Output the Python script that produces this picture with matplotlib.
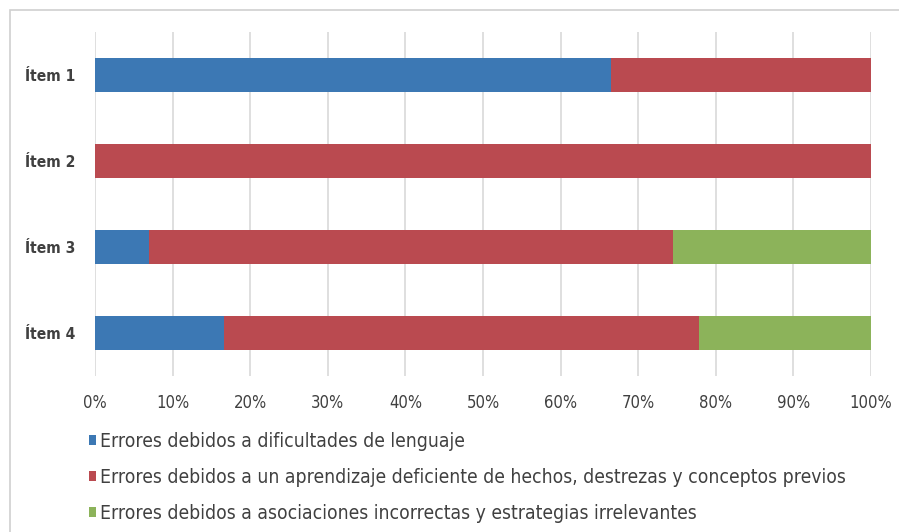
import numpy as np
from matplotlib import pyplot as plt
from matplotlib.patches import Patch, Rectangle

# data
items = ['Ítem 1', 'Ítem 2', 'Ítem 3', 'Ítem 4']
lenguaje = [66.5, 0.0, 7.0, 16.6]
aprendizaje = [33.5, 100.0, 67.5, 61.2]
asociaciones = [0.0, 0.0, 25.5, 22.2]
series_labels = ['Errores debidos a dificultades de lenguaje',
                 'Errores debidos a un aprendizaje deficiente de hechos, destrezas y conceptos previos',
                 'Errores debidos a asociaciones incorrectas y estrategias irrelevantes']
colores = ['#3C78B4', '#BA4A50', '#8CB35A']

plt.rcParams['font.family'] = ['DejaVu Sans']
plt.rcParams['font.stretch'] = 'condensed'

fig = plt.figure(figsize=(8.99, 5.32), dpi=100)
# marco del grafico
fig.patches.append(Rectangle((10/899, -0.01), 1.0, 1 - 10/532 + 0.01, transform=fig.transFigure,
                             fill=False, edgecolor='#d0d0d0', linewidth=1.2))
ax = fig.add_axes([95/899, 1 - 376/532, 776/899, 344/532])

y = np.arange(len(items))
izq = np.zeros(len(items))
for valores, color in zip([lenguaje, aprendizaje, asociaciones], colores):
    ax.barh(y, valores, left=izq, height=0.39, color=color, edgecolor='none', zorder=3)
    izq = izq + np.array(valores)

ax.set_xlim(0, 100)
ax.set_ylim(len(items) - 0.5, -0.5)
ax.set_yticks(y)
ax.set_yticklabels(items, fontsize=11.2, fontweight='bold', color='#404040')
ticks = np.arange(0, 101, 10)
ax.set_xticks(ticks)
ax.set_xticklabels([str(t) + '%' for t in ticks], fontsize=12, color='#404040')
ax.tick_params(axis='both', length=0)
ax.tick_params(axis='x', pad=13)
ax.tick_params(axis='y', pad=14)
ax.grid(axis='x', color='#d9d9d9', linewidth=1.2, zorder=0)
for s in ax.spines.values():
    s.set_visible(False)

handles = [Patch(facecolor=c, edgecolor='none') for c in colores]
fig.legend(handles, series_labels, loc='upper left', bbox_to_anchor=(89/899, 1 - 432/532),
           frameon=False, fontsize=13.9, handlelength=0.36, handleheight=0.4,
           handletextpad=0.22, labelspacing=0.88, borderaxespad=0, borderpad=0,
           labelcolor='#404040')

plt.savefig('out.png', dpi=100)
